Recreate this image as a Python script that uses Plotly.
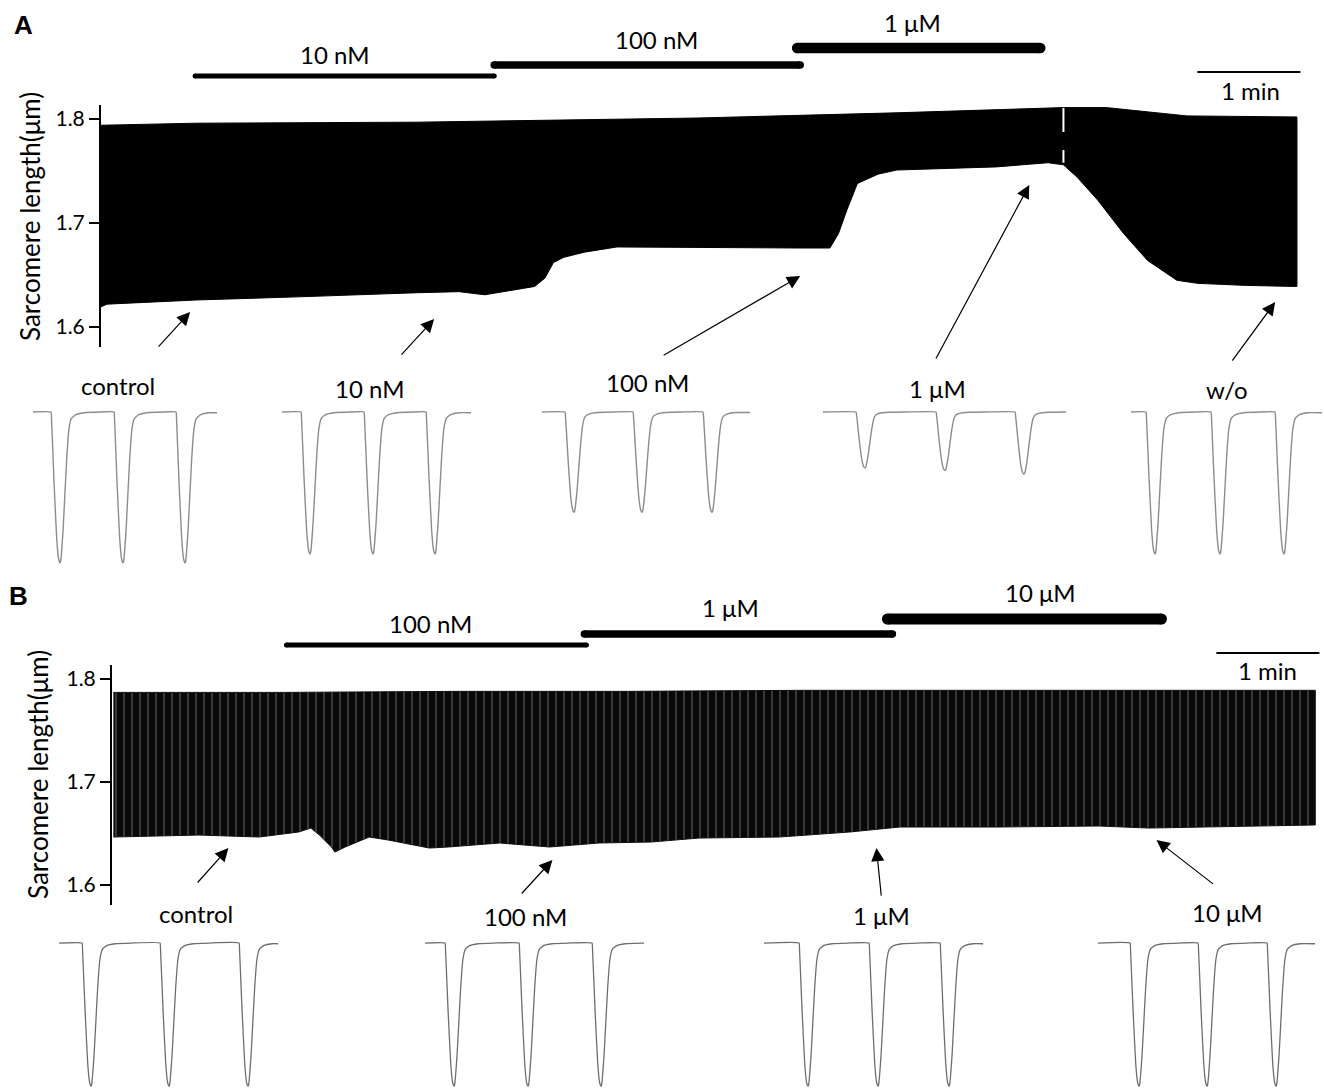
import plotly.graph_objects as go

W, H = 1324, 1088

# ---------------- Panel A : envelope of sarcomere length trace ----------------
a_upper_t = [0, 56, 185, 348, 464, 522, 561, 586, 610, 633, 697]
a_upper_v = [1.794, 1.796, 1.797, 1.801, 1.806, 1.809, 1.811, 1.811, 1.807, 1.803, 1.802]
a_lower_t = [0, 4, 56, 115, 185, 209, 224, 253, 259, 264, 270, 282, 301, 406, 425, 430,
             435, 441, 453, 464, 522, 552, 561, 569, 581, 596, 610, 627, 639, 668, 697]
a_lower_v = [1.619, 1.622, 1.626, 1.629, 1.633, 1.634, 1.631, 1.639, 1.647, 1.662, 1.667,
             1.672, 1.677, 1.676, 1.676, 1.690, 1.713, 1.738, 1.747, 1.751, 1.754, 1.758,
             1.756, 1.744, 1.722, 1.690, 1.664, 1.645, 1.642, 1.640, 1.639]
a_gap_t = [561, 561, None, 561, 561]
a_gap_v = [1.8106, 1.7875, None, 1.7702, 1.7580]

a_drug_labels = ["10 nM", "100 nM", "1 μM"]
a_drug_start = [55.3, 229.5, 405.9]
a_drug_end = [229.5, 407.7, 547.5]
a_scale_bar = [639.0, 699.0]  # 1 min

a_arrow_labels = ["control", "10 nM", "100 nM", "1 μM", "w/o"]
a_arrow_head_t = [52.4, 194.5, 407.7, 541.1, 684.3]
a_arrow_head_v = [1.6144, 1.6077, 1.6490, 1.7365, 1.6240]
a_arrow_tail_t = [33.2, 174.7, 327.3, 486.3, 658.7]
a_arrow_tail_v = [1.5798, 1.5721, 1.5721, 1.5683, 1.5663]

# Panel A sample twitches (trough times within each sample window, shortening depth in μm)
a_inset_span = [184, 189, 208, 243, 191]
a_inset_troughs = [[27, 90, 152], [28, 91, 153], [32, 100, 170], [42, 122, 201], [24, 89, 153]]
a_inset_depth = [[0.170, 0.170, 0.170], [0.160, 0.160, 0.160], [0.113, 0.113, 0.113],
                 [0.063, 0.066, 0.070], [0.160, 0.160, 0.160]]

# ---------------- Panel B ----------------
b_upper_t = [0, 100, 200, 300, 400, 500, 600, 700]
b_upper_v = [1.787, 1.787, 1.788, 1.788, 1.789, 1.789, 1.789, 1.789]
b_lower_t = [0, 50, 85, 108, 115, 120, 127, 129, 135, 149, 160, 184, 195, 225, 254, 283,
             313, 341, 388, 429, 458, 516, 574, 603, 632, 700]
b_lower_v = [1.6466, 1.6485, 1.6466, 1.6515, 1.6553, 1.6485, 1.6369, 1.6320, 1.6369,
             1.6466, 1.6437, 1.6359, 1.6369, 1.6408, 1.6369, 1.6408, 1.6417, 1.6456,
             1.6466, 1.6515, 1.6563, 1.6563, 1.6573, 1.6553, 1.6563, 1.6583]

b_drug_labels = ["100 nM", "1 μM", "10 μM"]
b_drug_start = [100.8, 274.3, 450.8]
b_drug_end = [275.5, 453.7, 610.4]
b_scale_bar = [642.4, 702.4]  # 1 min

b_arrow_labels = ["control", "100 nM", "1 μM", "10 μM"]
b_arrow_head_t = [67.0, 255.7, 444.4, 607.5]
b_arrow_head_v = [1.6359, 1.6243, 1.6359, 1.6437]
b_arrow_tail_t = [48.3, 237.0, 447.3, 641.3]
b_arrow_tail_v = [1.6010, 1.5903, 1.5883, 1.6000]

b_inset_span = [219, 219, 219, 217]
b_inset_troughs = [[32, 110, 189], [29, 103, 176], [44, 114, 185], [41, 109, 178]]
b_inset_depth = [[0.139, 0.139, 0.139]] * 4

# single twitch shape (offset from trough, fraction of depth)
tw_dt = [-9, -8.5, -6, -3.3, -1.5, -0.5, 0, 0.6, 1.3, 3, 4.7, 6.7, 9, 11.3, 15.7, 24, 40]
tw_frac = [0, 0.04, 0.46, 0.84, 0.97, 0.995, 1.0, 0.99, 0.95, 0.79, 0.57, 0.31, 0.11,
           0.044, 0.018, 0.005, 0]


def twitch_series(troughs, depths, span):
    xs, ys = [0.0], [0.0]
    for c, d in zip(troughs, depths):
        for dt, f in zip(tw_dt, tw_frac):
            x = c + dt
            if 0 <= x <= span:
                xs.append(x)
                ys.append(-d * f)
    xs.append(span)
    ys.append(ys[-1])
    return xs, ys


FONT = "Lato"
fig = go.Figure()

# ---- main traces ----
fig.add_trace(go.Scatter(
    x=a_upper_t + a_lower_t[::-1], y=a_upper_v + a_lower_v[::-1],
    fill="toself", fillcolor="black", mode="lines",
    line=dict(color="black", width=1), xaxis="x", yaxis="y", hoverinfo="skip"))
fig.add_trace(go.Scatter(
    x=a_gap_t, y=a_gap_v, mode="lines", line=dict(color="white", width=2),
    xaxis="x", yaxis="y", hoverinfo="skip"))
fig.add_trace(go.Scatter(
    x=b_upper_t + b_lower_t[::-1], y=b_upper_v + b_lower_v[::-1],
    fill="toself", fillcolor="#080808",
    fillpattern=dict(shape="|", size=8, solidity=0.17, fgcolor="#505050",
                     bgcolor="#080808", fillmode="replace"),
    mode="lines", line=dict(color="#111111", width=1),
    xaxis="x2", yaxis="y2", hoverinfo="skip"))

layout_axes = {}


def ytick_axis(dom_top, dom_bot, rng, anchor):
    return dict(domain=[1 - dom_bot / H, 1 - dom_top / H], range=rng,
                tickvals=[1.6, 1.7, 1.8], ticktext=["1.6", "1.7", "1.8"],
                ticks="outside", ticklen=10, tickwidth=1.6, tickcolor="black",
                showline=True, linewidth=2, linecolor="black", showgrid=False,
                zeroline=False, anchor=anchor,
                tickfont=dict(family=FONT, size=21, color="black"))


layout_axes["xaxis"] = dict(domain=[101 / W, 1315 / W], range=[0.5, 707.5],
                            visible=False, anchor="y")
layout_axes["yaxis"] = ytick_axis(105, 347, [1.5808, 1.8135], "x")
layout_axes["xaxis2"] = dict(domain=[112 / W, 1322 / W], range=[-0.8, 703.9],
                             visible=False, anchor="y2")
layout_axes["yaxis2"] = ytick_axis(665, 905, [1.5806, 1.8136], "x2")

# ---- insets ----
a_boxes_x = [(33, 217), (282, 471), (542, 750), (823, 1066), (1131, 1322)]
b_boxes_x = [(59, 278), (425, 644), (764, 983), (1098, 1315)]
ax_i = 3
for (x0, x1), tr, dp, sp in zip(a_boxes_x, a_inset_troughs, a_inset_depth, a_inset_span):
    xs, ys = twitch_series(tr, dp, sp)
    fig.add_trace(go.Scatter(x=xs, y=ys, mode="lines",
                             line=dict(color="#8c8c8c", width=1.4, shape="spline", smoothing=0.4),
                             xaxis=f"x{ax_i}", yaxis=f"y{ax_i}", hoverinfo="skip"))
    layout_axes[f"xaxis{ax_i}"] = dict(domain=[x0 / W, x1 / W], range=[0, sp], visible=False,
                                       anchor=f"y{ax_i}")
    layout_axes[f"yaxis{ax_i}"] = dict(domain=[1 - 570 / H, 1 - 405 / H],
                                       range=[-0.178, 0.0079], visible=False, anchor=f"x{ax_i}")
    ax_i += 1
for (x0, x1), tr, dp, sp in zip(b_boxes_x, b_inset_troughs, b_inset_depth, b_inset_span):
    xs, ys = twitch_series(tr, dp, sp)
    fig.add_trace(go.Scatter(x=xs, y=ys, mode="lines",
                             line=dict(color="#6e6e6e", width=1.3, shape="spline", smoothing=0.4),
                             xaxis=f"x{ax_i}", yaxis=f"y{ax_i}", hoverinfo="skip"))
    layout_axes[f"xaxis{ax_i}"] = dict(domain=[x0 / W, x1 / W], range=[0, sp], visible=False,
                                       anchor=f"y{ax_i}")
    layout_axes[f"yaxis{ax_i}"] = dict(domain=[0, 1 - 935 / H],
                                       range=[-0.1408, 0.0078], visible=False, anchor=f"x{ax_i}")
    ax_i += 1

# ---- drug bars & scale bars ----
shapes = []


def drug_bar(xref, t0, t1, py, thick):
    yp = 1 - py / H
    shapes.append(dict(type="line", xref=xref, yref="paper", x0=t0, x1=t1, y0=yp, y1=yp,
                       line=dict(color="black", width=thick)))
    r = thick / 2
    for t in (t0, t1):
        shapes.append(dict(type="circle", xref=xref, yref="paper", xsizemode="pixel",
                           ysizemode="pixel", xanchor=t, yanchor=yp, x0=-r, x1=r, y0=-r, y1=r,
                           fillcolor="black", line=dict(width=0)))


for t0, t1, py, th in zip(a_drug_start, a_drug_end, [76, 65, 48], [5, 7.5, 10.5]):
    drug_bar("x", t0, t1, py, th)
for t0, t1, py, th in zip(b_drug_start, b_drug_end, [645, 634, 619], [5, 7.5, 11]):
    drug_bar("x2", t0, t1, py, th)
shapes.append(dict(type="line", xref="x", yref="paper", x0=a_scale_bar[0], x1=a_scale_bar[1],
                   y0=1 - 72 / H, y1=1 - 72 / H, line=dict(color="black", width=2)))
shapes.append(dict(type="line", xref="x2", yref="paper", x0=b_scale_bar[0], x1=b_scale_bar[1],
                   y0=1 - 653 / H, y1=1 - 653 / H, line=dict(color="black", width=2)))

# ---- annotations ----
ann = []


def text(px, py, s, size=24, angle=0, family=FONT):
    ann.append(dict(x=px / W, y=1 - py / H, xref="paper", yref="paper", text=s,
                    showarrow=False, textangle=angle, xanchor="center", yanchor="middle",
                    font=dict(family=family, size=size, color="black")))


text(23, 25, "<b>A</b>", size=26, family="Liberation Sans")
text(18, 596, "<b>B</b>", size=26, family="Liberation Sans")
text(30, 217, "Sarcomere length(μm)", size=26, angle=-90)
text(38, 775, "Sarcomere length(μm)", size=26, angle=-90)

for lab, (px, py) in zip(a_drug_labels, [(334, 54), (656, 39), (912, 23)]):
    text(px, py, lab)
for lab, (px, py) in zip(b_drug_labels, [(430, 623), (730, 607), (1040, 592)]):
    text(px, py, lab)
text(1250, 90, "1 min")
text(1267, 670, "1 min")
for lab, (px, py) in zip(a_arrow_labels, [(118, 386), (369, 388), (647, 382), (937, 388), (1227, 389)]):
    text(px, py, lab)
for lab, (px, py) in zip(b_arrow_labels, [(196, 913), (525, 916), (882, 915), (1227, 912)]):
    text(px, py, lab)


def arrows(xr, yr, ht, hv, tt, tv):
    for a, b, c, d in zip(ht, hv, tt, tv):
        ann.append(dict(x=a, y=b, xref=xr, yref=yr, ax=c, ay=d, axref=xr, ayref=yr,
                        text="", showarrow=True, arrowhead=2, arrowsize=2.2, arrowwidth=1.2,
                        arrowcolor="black", standoff=0, startstandoff=0))


arrows("x", "y", a_arrow_head_t, a_arrow_head_v, a_arrow_tail_t, a_arrow_tail_v)
arrows("x2", "y2", b_arrow_head_t, b_arrow_head_v, b_arrow_tail_t, b_arrow_tail_v)

fig.update_layout(width=W, height=H, margin=dict(l=0, r=0, t=0, b=0),
                  paper_bgcolor="white", plot_bgcolor="white", showlegend=False,
                  shapes=shapes, annotations=ann, **layout_axes)

fig.write_html("out.html", config={"displayModeBar": False},
               post_script="document.body.style.margin='0';document.body.style.padding='0';")
